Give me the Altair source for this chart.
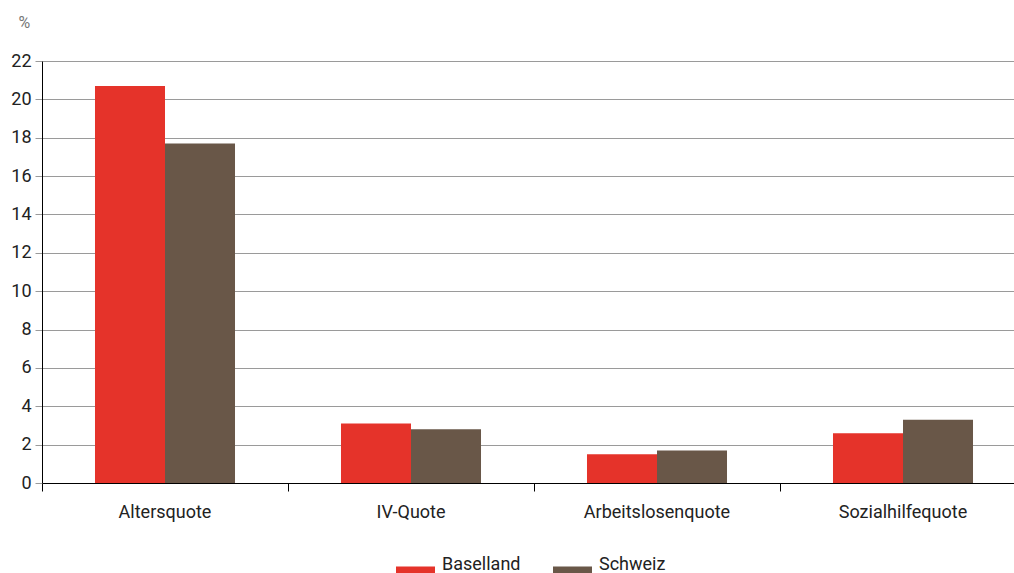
import altair as alt
import pandas as pd

categories = ["Altersquote", "IV-Quote", "Arbeitslosenquote", "Sozialhilfequote"]
series = ["Baselland", "Schweiz"]
baselland = [20.7, 3.1, 1.5, 2.6]
schweiz = [17.7, 2.8, 1.7, 3.3]
colors = ["#E5332A", "#695748"]

rows = []
for c, b, s in zip(categories, baselland, schweiz):
    rows.append({"Kategorie": c, "Region": series[0], "Wert": b})
    rows.append({"Kategorie": c, "Region": series[1], "Wert": s})
df = pd.DataFrame(rows)

FONT = "Roboto"

chart = alt.Chart(df).mark_bar().encode(
    x=alt.X("Kategorie:N", sort=categories, title=None,
            scale=alt.Scale(paddingInner=0, paddingOuter=0, range=[0, 984]),
            axis=alt.Axis(bandPosition=0, labelAngle=0,
                          domainColor="#000000", tickColor="#000000", tickSize=8,
                          labelPadding=12, labelFontSize=18, labelColor="#222222",
                          labelFont=FONT, grid=False)),
    xOffset=alt.XOffset("Region:N", sort=series,
                        scale=alt.Scale(paddingInner=0, paddingOuter=0.757)),
    y=alt.Y("Wert:Q", title="%",
            scale=alt.Scale(domain=[0, 22], nice=False),
            axis=alt.Axis(values=list(range(0, 23, 2)), gridColor="#9a9a9a",
                          gridWidth=1, domainColor="#000000", tickColor="#9a9a9a",
                          tickSize=7, labelPadding=4, labelFontSize=18,
                          labelColor="#222222", labelFont=FONT,
                          titleAngle=0, titleX=-24, titleY=-34, titleAlign="left",
                          titleBaseline="alphabetic", titleFontSize=16,
                          titleFontWeight="normal", titleColor="#777777",
                          titleFont=FONT)),
    color=alt.Color("Region:N", sort=series,
                    scale=alt.Scale(domain=series, range=colors),
                    legend=alt.Legend(title=None, orient="none", direction="horizontal",
                                      legendX=354, legendY=484,
                                      symbolType="M-1,0.08L1,0.08L1,0.9L-1,0.9Z",
                                      symbolSize=1521, symbolStrokeWidth=0,
                                      symbolOpacity=1, labelFontSize=18,
                                      labelFont=FONT, labelColor="#222222",
                                      columnPadding=32, labelOffset=7, padding=0)),
).properties(
    width=972, height=422,
    autosize=alt.AutoSizeParams(type="none"),
    padding={"left": 42, "top": 61, "right": 0, "bottom": 90},
).configure_view(stroke=None).configure(background="white")

chart.save("out.html", embed_options={"renderer": "svg", "actions": False})
